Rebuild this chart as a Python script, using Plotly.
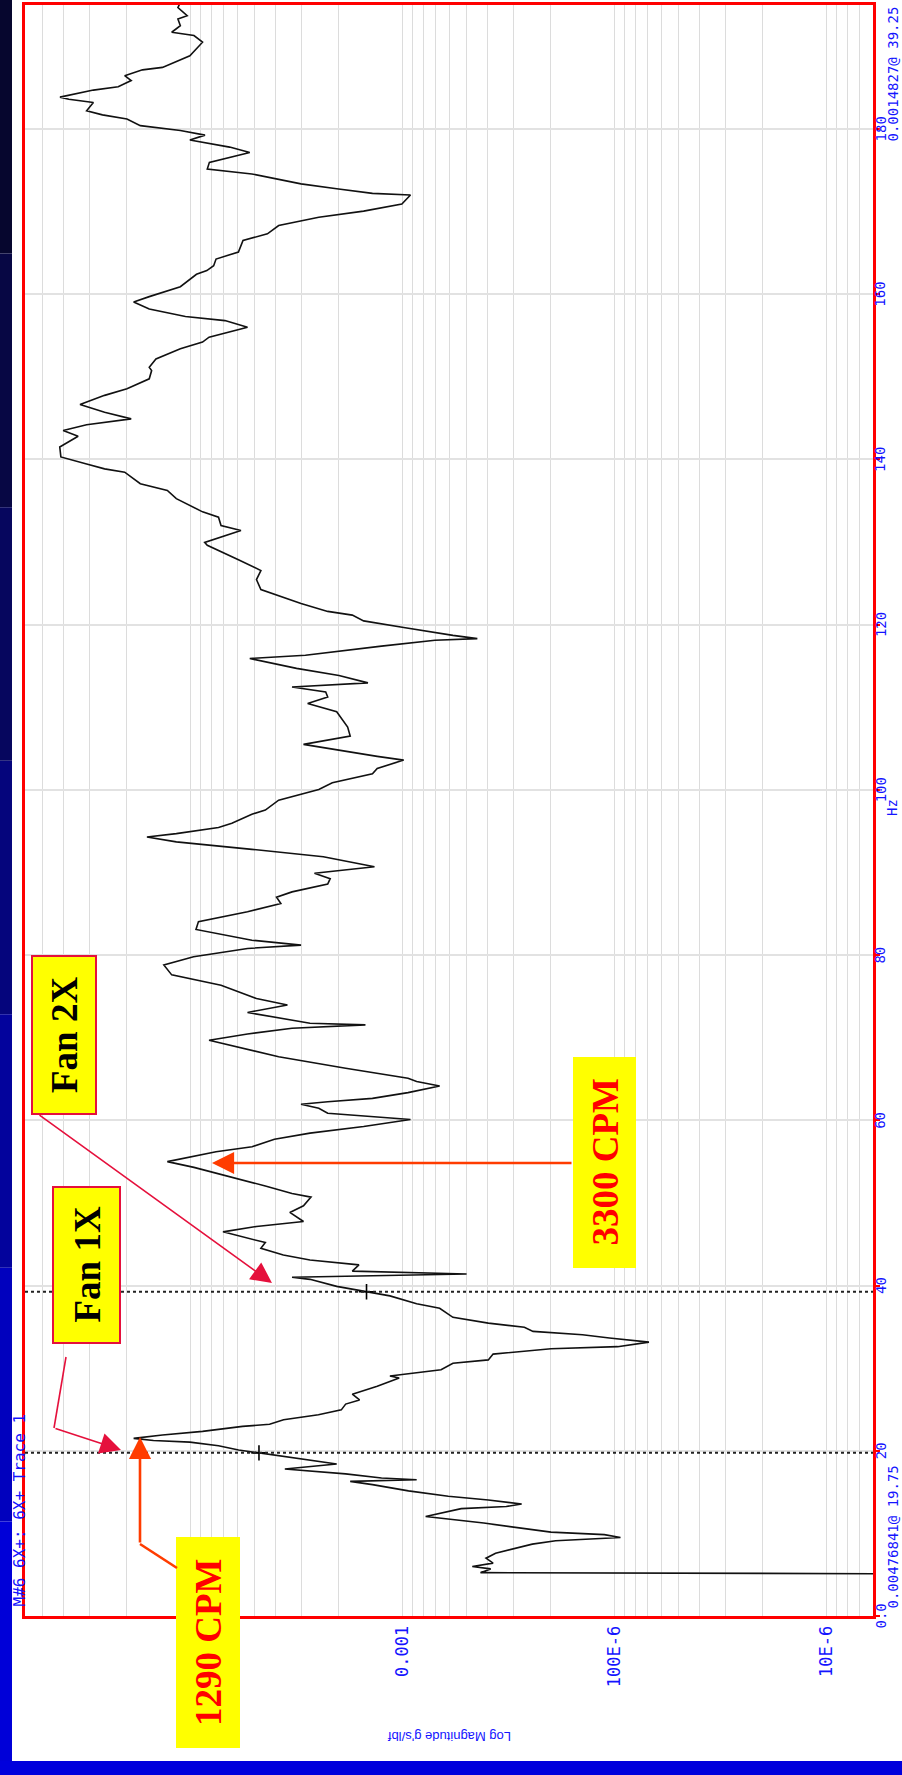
import plotly.graph_objects as go

# Frequency response, trace 1 (Hz vs magnitude in g's/lbf)
hz = [5.00, 5.25, 5.70, 6.00, 6.40, 7.00, 7.60, 8.70, 9.10, 9.50, 9.85, 10.15, 11.25, 12.05,
      13.00, 13.25, 13.55, 14.05, 14.50, 15.15, 15.90, 16.30, 16.50, 16.70, 17.20, 17.50,
      17.80, 18.40, 19.00, 19.50, 19.75, 20.10, 20.60, 21.05, 21.25, 21.50, 21.90, 22.35,
      22.95, 23.20, 23.75, 24.35, 24.95, 25.65, 26.15, 26.85, 27.80, 28.80, 29.05, 29.40,
      29.80, 30.60, 31.00, 31.70, 32.35, 32.60, 33.15, 33.65, 34.05, 34.45, 34.95, 35.45,
      36.15, 37.25, 37.80, 38.75, 39.25, 39.90, 40.75, 41.00, 41.40, 41.75, 42.50, 43.10,
      43.70, 44.50, 45.20, 46.50, 47.15, 47.75, 48.85, 49.65, 50.70, 51.15, 52.05, 53.20,
      54.30, 55.00, 56.20, 56.80, 57.70, 58.45, 59.25, 60.10, 60.85, 61.45, 61.95, 62.25,
      62.65, 63.35, 64.15, 64.70, 65.10, 66.30, 67.70, 69.70, 70.45, 71.15, 71.55, 71.75,
      73.05, 73.95, 74.75, 76.35, 77.60, 78.80, 79.80, 80.80, 81.20, 81.80, 83.10, 84.05,
      85.25, 86.25, 87.00, 87.65, 88.60, 89.25, 89.90, 90.70, 91.90, 92.80, 93.70, 94.30,
      94.70, 95.45, 95.95, 97.05, 97.55, 98.75, 100.05, 100.85, 101.95, 102.60, 103.60,
      104.05, 104.70, 105.50, 106.50, 107.60, 109.45, 110.45, 111.25, 111.85, 112.45,
      112.95, 113.85, 114.70, 115.90, 116.30, 117.40, 118.10, 118.30, 118.70, 119.65,
      120.45, 121.15, 121.60, 122.55, 124.25, 125.45, 126.55, 127.85, 129.60, 129.95,
      131.40, 132.00, 133.00, 133.65, 135.25, 136.25, 137.05, 138.45, 138.85, 139.45,
      140.30, 141.50, 142.80, 143.50, 144.20, 144.90, 145.70, 146.65, 147.75, 148.55,
      149.75, 150.75, 151.15, 152.15, 153.40, 154.20, 154.80, 156.00, 156.80, 157.30,
      158.20, 159.05, 159.70, 160.90, 162.40, 162.85, 163.45, 164.25, 165.10, 166.50,
      167.30, 168.30, 169.30, 170.05, 170.90, 172.00, 172.20, 172.75, 173.35, 174.55,
      175.15, 175.95, 177.15, 177.80, 178.65, 179.25, 179.80, 180.40, 181.20, 181.70,
      182.20, 183.20, 183.60, 183.85, 184.70, 185.10, 185.85, 186.45, 187.15, 187.45,
      188.85, 190.50, 191.30, 191.70, 192.50, 193.30, 193.70, 194.70, 195.30]

mag = [1.0e-7, 4.3e-4, 3.85e-4, 4.7e-4, 3.75e-4, 4.05e-4, 3.65e-4, 2.45e-4, 1.9e-4, 9.4e-5,
       1.12e-4, 2.0e-4, 4.15e-4, 7.8e-4, 5.3e-4, 3.25e-4, 2.75e-4, 3.95e-4, 6.1e-4, 9.4e-4,
       1.39e-3, 1.77e-3, 8.6e-4, 1.26e-3, 1.86e-3, 2.74e-3, 3.6e-3, 2.05e-3, 3.0e-3, 4.2e-3,
       4.76841e-3, 5.95e-3, 7.4e-3, 1.01e-2, 1.5e-2, 1.86e-2, 1.36e-2, 8.8e-3, 5.7e-3,
       4.25e-3, 3.65e-3, 2.5e-3, 1.95e-3, 1.86e-3, 1.6e-3, 1.73e-3, 1.32e-3, 1.04e-3,
       1.15e-3, 8.6e-4, 6.6e-4, 5.8e-4, 3.95e-4, 3.75e-4, 2.0e-4, 9.7e-5, 6.9e-5, 1.06e-4,
       1.42e-4, 2.43e-4, 2.67e-4, 3.95e-4, 5.8e-4, 6.7e-4, 8.6e-4, 1.15e-3, 1.4827e-3,
       2.05e-3, 2.74e-3, 3.33e-3, 5.0e-4, 1.73e-3, 1.61e-3, 2.74e-3, 3.66e-3, 4.67e-3,
       4.45e-3, 7.05e-3, 4.9e-3, 2.94e-3, 3.41e-3, 2.94e-3, 2.71e-3, 3.33e-3, 4.45e-3,
       6.56e-3, 9.66e-3, 1.29e-2, 7.6e-3, 5.14e-3, 4.03e-3, 2.74e-3, 1.53e-3, 9.2e-4,
       2.26e-3, 2.49e-3, 3.02e-3, 2.26e-3, 1.39e-3, 9.45e-4, 6.7e-4, 8.6e-4, 9.45e-4,
       1.86e-3, 3.85e-3, 8.2e-3, 5.4e-3, 3.33e-3, 1.5e-3, 2.74e-3, 5.4e-3, 3.5e-3, 4.9e-3,
       7.2e-3, 1.23e-2, 1.34e-2, 9.7e-3, 5.4e-3, 3.02e-3, 5.15e-3, 9.45e-3, 9.2e-3, 5.4e-3,
       3.76e-3, 3.94e-3, 3.33e-3, 2.26e-3, 2.2e-3, 2.61e-3, 1.36e-3, 2.37e-3, 5.15e-3,
       1.17e-2, 1.61e-2, 1.17e-2, 7.4e-3, 6.4e-3, 5.15e-3, 4.45e-3, 3.85e-3, 2.49e-3,
       2.15e-3, 1.39e-3, 1.32e-3, 9.9e-4, 1.32e-3, 1.86e-3, 2.94e-3, 1.77e-3, 1.82e-3,
       2.05e-3, 2.81e-3, 2.26e-3, 2.31e-3, 3.33e-3, 1.46e-3, 2.0e-3, 3.17e-3, 5.27e-3,
       2.88e-3, 1.26e-3, 7.05e-4, 4.45e-4, 5.8e-4, 9.9e-4, 1.53e-3, 1.73e-3, 2.26e-3,
       3.02e-3, 4.67e-3, 4.9e-3, 4.67e-3, 5.96e-3, 8.36e-3, 8.6e-3, 5.8e-3, 7.2e-3, 7.4e-3,
       8.8e-3, 1.17e-2, 1.29e-2, 1.73e-2, 2.05e-2, 2.55e-2, 3.1e-2, 4.1e-2, 4.15e-2, 3.4e-2,
       4.0e-2, 3.1e-2, 1.91e-2, 2.55e-2, 3.33e-2, 2.55e-2, 2.0e-2, 1.57e-2, 1.53e-2,
       1.57e-2, 1.46e-2, 1.12e-2, 8.8e-3, 8.2e-3, 5.4e-3, 6.9e-3, 1.06e-2, 1.57e-2, 1.86e-2,
       1.57e-2, 1.12e-2, 9.4e-3, 8.4e-3, 7.8e-3, 7.6e-3, 5.96e-3, 5.67e-3, 4.35e-3, 3.85e-3,
       2.49e-3, 1.53e-3, 1.01e-3, 9.2e-4, 1.39e-3, 2.05e-3, 3.02e-3, 5.15e-3, 8.36e-3,
       8.17e-3, 5.27e-3, 6.56e-3, 1.01e-2, 8.57e-3, 1.12e-2, 1.73e-2, 2.0e-2, 2.61e-2,
       3.1e-2, 2.88e-2, 3.76e-2, 4.14e-2, 2.88e-2, 2.2e-2, 1.91e-2, 2.05e-2, 1.69e-2,
       1.36e-2, 1.01e-2, 8.8e-3, 9.66e-3, 1.23e-2, 1.12e-2, 1.15e-2, 1.04e-2, 1.15e-2, 1.12e-2]

# Cursor readouts (Hz, magnitude)
cursor_hz = [19.75, 39.25]
cursor_mag = [0.00476841, 0.0014827]
cursor_text = ["0.00476841@ 19.75", "0.0014827@ 39.25"]

# Axis ticks
hz_ticks = [0, 20, 40, 60, 80, 100, 120, 140, 160, 180]
hz_labels = ["0.0", "20", "40", "60", "80", "100", "120", "140", "160", "180"]
mag_decades = [1e-6, 1e-5, 1e-4, 1e-3, 1e-2]
mag_labels = {1e-5: "10E-6", 1e-4: "100E-6", 1e-3: "0.001"}
mag_range_log = [-1.218, -5.218]
hz_range = [0, 195]

BLUE = "#1414FF"
RED = "#FF0000"
ARROW_FAN = "#E5103C"
ARROW_CPM = "#FF3C00"
YELLOW = "#FFFF00"

W, H = 902, 1775
PL, PR, PT, PB = 25, 873, 5, 1616


def fx(p):
    return (p - PL) / (PR - PL)


def fy(p):
    return (PB - p) / (PB - PT)


grid_vals, grid_text = [], []
for d in mag_decades:
    for k in range(1, 10):
        v = round(k * d, 12)
        if 10 ** mag_range_log[1] <= v <= 10 ** mag_range_log[0]:
            grid_vals.append(v)
            grid_text.append(mag_labels.get(d, "") if k == 1 else "")

fig = go.Figure()
fig.add_trace(go.Scatter(x=mag, y=hz, mode="lines",
                         line=dict(color="#111111", width=1.6), hoverinfo="skip"))
fig.add_trace(go.Scatter(x=cursor_mag, y=cursor_hz, mode="markers",
                         marker=dict(symbol="cross-thin", size=11,
                                     line=dict(color="#000000", width=1.6)),
                         hoverinfo="skip"))

shapes = []
# slide background strips
strip_cols = ["#06062E", "#070744", "#06065E", "#05057C", "#03039C", "#0101BE", "#0000D8"]
n = len(strip_cols)
for i, c in enumerate(strip_cols):
    y0 = H * i / n
    y1 = H * (i + 1) / n
    shapes.append(dict(type="rect", xref="paper", yref="paper", x0=fx(0), x1=fx(12),
                       y0=fy(y1), y1=fy(y0), fillcolor=c, line=dict(width=0), layer="below"))
shapes.append(dict(type="rect", xref="paper", yref="paper", x0=fx(0), x1=fx(W),
                   y0=fy(H), y1=fy(1761), fillcolor="#0000DC", line=dict(width=0), layer="below"))

# cursor lines
for h in cursor_hz:
    shapes.append(dict(type="line", xref="paper", yref="y", x0=0, x1=1, y0=h, y1=h,
                       line=dict(color="#222222", width=2, dash="dot")))

# label boxes
boxes = [
    ((32, 956, 96, 1114), ARROW_FAN),
    ((53, 1187, 120, 1343), ARROW_FAN),
    ((176, 1537, 240, 1748), None),
    ((573, 1057, 636, 1268), None),
]
for (x0, y0, x1, y1), lc in boxes:
    shapes.append(dict(type="rect", xref="paper", yref="paper", x0=fx(x0), x1=fx(x1),
                       y0=fy(y1), y1=fy(y0), fillcolor=YELLOW,
                       line=dict(color=lc if lc else YELLOW, width=2 if lc else 0)))

# bent leader segments
shapes.append(dict(type="path", xref="paper", yref="paper",
                   path=f"M {fx(66)} {fy(1357)} L {fx(54)} {fy(1428)}",
                   line=dict(color=ARROW_FAN, width=1.6)))
shapes.append(dict(type="path", xref="paper", yref="paper",
                   path=f"M {fx(177)} {fy(1568)} L {fx(140)} {fy(1544)}",
                   line=dict(color=ARROW_CPM, width=2.6)))

ann = []


def arrow(tip, tail, color, width, size):
    ann.append(dict(xref="paper", yref="paper", x=fx(tip[0]), y=fy(tip[1]),
                    ax=tail[0] - tip[0], ay=tail[1] - tip[1], text="", showarrow=True,
                    arrowhead=2, arrowsize=size, arrowwidth=width, arrowcolor=color,
                    standoff=0))


arrow((272, 1283), (38, 1114), ARROW_FAN, 1.6, 2.6)
arrow((121, 1450), (54, 1428), ARROW_FAN, 1.6, 2.6)
arrow((140, 1437), (140, 1544), ARROW_CPM, 2.6, 1.7)
arrow((212, 1163), (573, 1163), ARROW_CPM, 2.6, 1.7)

serif = "Liberation Serif"
for txt, cx, cy, col in [("Fan 2X", 64, 1035, "#000000"), ("Fan 1X", 86.5, 1265, "#000000"),
                         ("1290 CPM", 208, 1642, "#FF0000"), ("3300 CPM", 604.5, 1162, "#FF0000")]:
    ann.append(dict(xref="paper", yref="paper", x=fx(cx), y=fy(cy), text=f"<b>{txt}</b>",
                    showarrow=False, textangle=-90, xanchor="center", yanchor="middle",
                    font=dict(family=serif, size=37, color=col)))

mono = "DejaVu Sans Mono"
lab_font = dict(family=mono, size=14, color=BLUE)

# Hz tick labels, rotated, just outside the frame
for v, t in zip(hz_ticks, hz_labels):
    ann.append(dict(xref="paper", yref="y", x=fx(880.5), y=v, text=t, showarrow=False,
                    textangle=-90, xanchor="center", yanchor="middle", font=lab_font,
                    borderpad=0))

RX = 892
ann.append(dict(xref="paper", yref="paper", x=fx(RX), y=fy(6), text=cursor_text[1],
                showarrow=False, textangle=-90, xanchor="center", yanchor="top",
                font=lab_font, borderpad=0))
ann.append(dict(xref="paper", yref="paper", x=fx(RX), y=fy(1610), text=cursor_text[0],
                showarrow=False, textangle=-90, xanchor="center", yanchor="bottom",
                font=lab_font, borderpad=0))
ann.append(dict(xref="paper", yref="paper", x=fx(RX), y=fy(808), text="Hz",
                showarrow=False, textangle=-90, xanchor="center", yanchor="middle",
                font=lab_font, borderpad=0))
ann.append(dict(xref="paper", yref="paper", x=fx(19), y=fy(1608), text="M#6 6X+: 6X+ Trace 1",
                showarrow=False, textangle=-90, xanchor="center", yanchor="bottom",
                font=dict(family=mono, size=16, color=BLUE), borderpad=0))
ann.append(dict(xref="paper", yref="paper", x=fx(449), y=fy(1737), text="Log Magnitude g's/lbf",
                showarrow=False, textangle=180, xanchor="center", yanchor="middle",
                font=dict(family="Liberation Sans", size=13, color=BLUE)))

fig.update_layout(
    width=W, height=H,
    margin=dict(l=PL, r=W - PR, t=PT, b=H - PB, pad=0),
    paper_bgcolor="#FFFFFF", plot_bgcolor="#FFFFFF",
    showlegend=False,
    shapes=shapes, annotations=ann,
    xaxis=dict(type="log", range=mag_range_log, tickvals=grid_vals, ticktext=grid_text,
               tickangle=-90, ticks="", showgrid=True, gridcolor="#DCDCDC", gridwidth=1,
               showline=True, mirror=True, linecolor=RED, linewidth=3, zeroline=False,
               automargin=False, tickfont=dict(family=mono, size=17, color=BLUE)),
    yaxis=dict(side="right", range=hz_range, tickvals=hz_ticks, showticklabels=False,
               ticks="outside", ticklen=4, tickcolor=RED, tickwidth=1.5,
               showgrid=True, gridcolor="#E2E2E2", gridwidth=2,
               showline=True, mirror=True, linecolor=RED, linewidth=3, zeroline=False,
               automargin=False),
)

fig.write_html("out.html")
